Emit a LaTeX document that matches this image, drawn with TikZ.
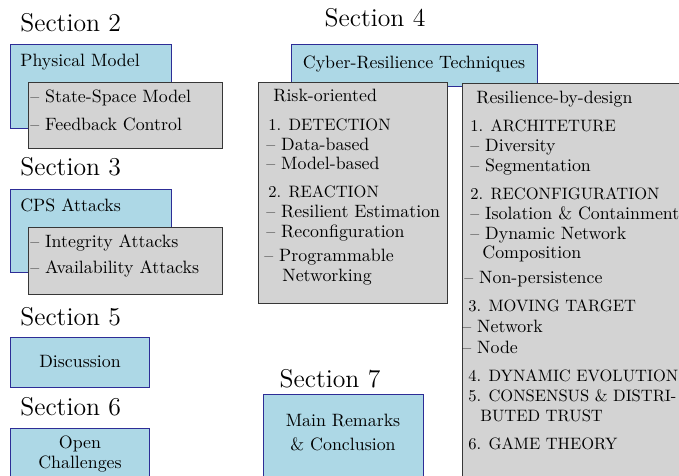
\documentclass[tikz,border=0pt]{standalone}
\usetikzlibrary{fit}
\definecolor{boxblue}{RGB}{173,216,230}
\definecolor{edgeblue}{RGB}{45,45,150}
\definecolor{boxgray}{RGB}{211,211,211}
\definecolor{edgegray}{RGB}{55,55,55}
\newcommand{\capsline}[1]{\scalebox{0.925}{#1}}
\begin{document}
\begin{tikzpicture}[x=0.56pt,y=-0.56pt,
  bluebox/.style={draw=edgeblue,fill=boxblue,line width=0.5pt,inner sep=0pt},
  graybox/.style={draw=edgegray,fill=boxgray,line width=0.5pt,inner sep=0pt},
  txt/.style={anchor=base west,inner sep=0pt,font=\normalsize},
  caps/.style={anchor=base west,inner sep=0pt,font=\normalsize},
  ctxt/.style={anchor=base,inner sep=0pt,font=\normalsize},
  sect/.style={anchor=base west,inner sep=0pt,font=\Large},
  csect/.style={anchor=base,inner sep=0pt,font=\Large}]
\useasboundingbox (0,0) rectangle (679,476);
\clip (0,0) rectangle (679,476);
% Section 2
\node[sect] (s2) at (20,32) {Section 2};
\node[bluebox,fit={(10,44) (171,128)}] (pm) {};
\node[graybox,fit={(28,82) (222,148)}] (pmg) {};
\node[txt] (pmt) at (20,67) {Physical Model};
\node[txt] (pm1) at (30,103) {-- State-Space Model};
\node[txt] (pm2) at (30,131) {-- Feedback Control};
% Section 3
\node[sect] (s3) at (20,176) {Section 3};
\node[bluebox,fit={(10,189) (171,272)}] (cps) {};
\node[graybox,fit={(28,227) (222,294)}] (cpsg) {};
\node[txt] (cpst) at (20,212) {CPS Attacks};
\node[txt] (cps1) at (30,248) {-- Integrity Attacks};
\node[txt] (cps2) at (30,274) {-- Availability Attacks};
% Section 5
\node[sect] (s5) at (20,326) {Section 5};
\node[bluebox,fit={(10,337) (149,387)}] (disc) {};
\node[ctxt] (disct) at (80,368) {Discussion};
% Section 6
\node[sect] (s6) at (20,416) {Section 6};
\node[bluebox,fit={(10,428) (149,495)}] (open) {};
\node[ctxt] (open1) at (80,449) {Open};
\node[ctxt] (open2) at (80,469) {Challenges};
% Section 4
\node[csect] (s4) at (375,27) {Section 4};
\node[bluebox,fit={(291,44) (537,86)}] (cyber) {};
\node[ctxt] (cybert) at (414,69) {Cyber-Resilience Techniques};
\node[graybox,fit={(258,82) (447,303)}] (risk) {};
\node[graybox,fit={(462,83) (700,495)}] (resil) {};
\node[txt] (r0) at (273,102) {Risk-oriented};
\node[caps] (r1) at (268,131) {\capsline{1. DETECTION}};
\node[txt] (r2) at (266,151) {-- Data-based};
\node[txt] (r3) at (266,170) {-- Model-based};
\node[caps] (r4) at (268,198) {\capsline{2. REACTION}};
\node[txt] (r5) at (266,218) {-- Resilient Estimation};
\node[txt] (r6) at (266,238) {-- Reconfiguration};
\node[txt] (r7) at (264,262) {-- Programmable};
\node[txt] (r8) at (282,282) {Networking};
\node[txt] (d0) at (476,104) {Resilience-by-design};
\node[caps] (d1) at (470,132) {\capsline{1. ARCHITETURE}};
\node[txt] (d2) at (470,152) {-- Diversity};
\node[txt] (d3) at (470,172) {-- Segmentation};
\node[caps] (d4) at (470,200) {\capsline{2. RECONFIGURATION}};
\node[txt] (d5) at (470,220) {-- Isolation \& Containment};
\node[txt] (d6) at (470,240) {-- Dynamic Network};
\node[txt] (d7) at (482,259) {Composition};
\node[txt] (d8) at (464,284) {-- Non-persistence};
\node[caps] (d9) at (468,312) {\capsline{3. MOVING TARGET}};
\node[txt] (d10) at (462,333) {-- Network};
\node[txt] (d11) at (462,354) {-- Node};
\node[caps] (d12) at (468,382) {\capsline{4. DYNAMIC EVOLUTION}};
\node[caps] (d13) at (468,402) {\capsline{5. CONSENSUS \& DISTRI-}};
\node[caps] (d14) at (480,422) {\capsline{BUTED TRUST}};
\node[caps] (d15) at (468,450) {\capsline{6. GAME THEORY}};
% Section 7
\node[csect] (s7) at (330,388) {Section 7};
\node[bluebox,fit={(263,394) (423,495)}] (main) {};
\node[ctxt] (main1) at (343,427) {Main Remarks};
\node[ctxt] (main2) at (343,451) {\& Conclusion};
\end{tikzpicture}
\end{document}
